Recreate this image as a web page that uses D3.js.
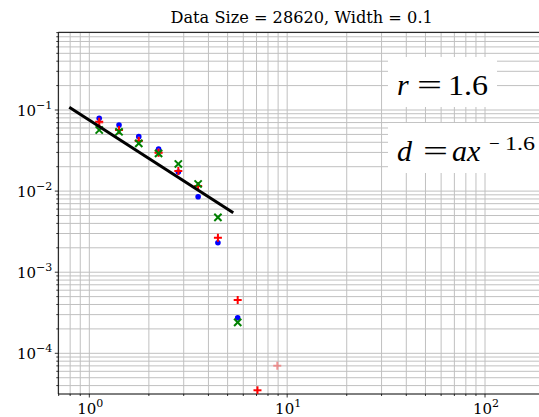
<!DOCTYPE html>
<html><head><meta charset="utf-8">
<script src="https://cdn.jsdelivr.net/npm/d3@7"></script>
<style>body{margin:0;background:#fff}svg{display:block}</style>
</head><body>
<script>
// ---- data ----
const binX = [1.122, 1.413, 1.778, 2.239, 2.818, 3.548, 4.467, 5.623, 7.079, 8.913];
const blueY  = [0.0790, 0.0653, 0.0469, 0.0331, 0.0172, 0.00853, 0.00231, 0.000275, null, null];
const redY   = [0.0718, 0.0567, 0.0415, 0.0297, 0.0177, 0.01156, 0.00266, 0.000454, 0.0000350, null];
const greenY = [0.0567, 0.0539, 0.0388, 0.0292, 0.0216, 0.01225, 0.00475, 0.000241, null, null];
const pinkY  = [0.0697, null, 0.0420, 0.0300, null, null, null, null, null, 0.0000703];
const fitX = [0.792, 5.34];
const fitY = [0.108, 0.00540];
const title = "Data Size = 28620, Width = 0.1";
const xTickExp = [0, 1, 2];
const yTickExp = [-4, -3, -2, -1];
const rValue = "1.6";

(function(){
// ---- layout ----
const W = 539, H = 417;
const pL = 58.3, pR = 545, pT = 32.3, pB = 394;
const svg = d3.select("body").append("svg").attr("width", W).attr("height", H);

const x = d3.scaleLog().domain([0.697, 201]).range([pL, pR]);
const y = d3.scaleLog().domain([0.908, 3.15e-5]).range([pT, pB]);

svg.append("defs").append("clipPath").attr("id","clip")
  .append("rect").attr("x", pL).attr("y", pT).attr("width", pR-pL).attr("height", pB-pT);
const g = svg.append("g");

// grid lines (major + minor)
const xGrid = [];
for (let e = -1; e <= 2; e++) for (let m = 1; m <= 9; m++) { const v = m*Math.pow(10,e); if (v >= 0.697 && v <= 201) xGrid.push(v); }
const yGrid = [];
for (let e = -5; e <= 0; e++) for (let m = 1; m <= 9; m++) { const v = m*Math.pow(10,e); if (v >= 3.15e-5 && v <= 0.908) yGrid.push(v); }
const grid = g.append("g").attr("clip-path","url(#clip)");
grid.selectAll("line.gx").data(xGrid).join("line")
  .attr("x1", d=>x(d)).attr("x2", d=>x(d)).attr("y1", pT).attr("y2", pB)
  .attr("stroke", "#c0c0c0").attr("stroke-width", 1);
grid.selectAll("line.gy").data(yGrid).join("line")
  .attr("y1", d=>y(d)).attr("y2", d=>y(d)).attr("x1", pL).attr("x2", pR)
  .attr("stroke", "#c0c0c0").attr("stroke-width", 1);

const isMajor = (d) => Math.abs(Math.log10(d) - Math.round(Math.log10(d))) < 1e-9;
const axes = g.append("g");
axes.selectAll("line.xt").data(xGrid).join("line")
  .attr("x1", d=>x(d)).attr("x2", d=>x(d)).attr("y1", pB)
  .attr("y2", d=> isMajor(d) ? pB+3.5 : pB+2)
  .attr("stroke","#000").attr("stroke-width",0.8);
axes.selectAll("line.yt").data(yGrid).join("line")
  .attr("y1", d=>y(d)).attr("y2", d=>y(d)).attr("x1", pL)
  .attr("x2", d=> isMajor(d) ? pL-3.5 : pL-2)
  .attr("stroke","#000").attr("stroke-width",0.8);
axes.append("line").attr("x1",pL).attr("x2",pR).attr("y1",pB).attr("y2",pB).attr("stroke","#000").attr("stroke-width",1);
axes.append("line").attr("x1",pL).attr("x2",pR).attr("y1",pT).attr("y2",pT).attr("stroke","#000").attr("stroke-width",1);
axes.append("line").attr("x1",pL).attr("x2",pL).attr("y1",pT).attr("y2",pB).attr("stroke","#000").attr("stroke-width",1);

// tick labels
const fontTxt = "'DejaVu Serif', serif";
function pow10Label(sel, e) {
  sel.append("tspan").text("10");
  sel.append("tspan").attr("dy", -6.5).attr("font-size", 11).text(e < 0 ? "\u2212" + (-e) : String(e));
}
xTickExp.forEach(e => {
  const t = svg.append("text").attr("x", x(Math.pow(10,e)) + 1).attr("y", pB + 19.5)
    .attr("text-anchor","middle").attr("font-family",fontTxt).attr("font-size",15).attr("fill","#000");
  pow10Label(t, e);
});
yTickExp.forEach(e => {
  const t = svg.append("text").attr("x", pL - 6).attr("y", y(Math.pow(10,e)) + 5.5)
    .attr("text-anchor","end").attr("font-family",fontTxt).attr("font-size",15).attr("fill","#000");
  pow10Label(t, e);
});

// title
svg.append("text").attr("x", (pL+pR)/2).attr("y", 22.7).attr("text-anchor","middle")
  .attr("font-family",fontTxt).attr("font-size",16.2).attr("fill","#000").text(title);

// markers
const plot = g.append("g").attr("clip-path","url(#clip)");
const pts = (arr) => binX.map((v,i)=>({x:v, y:arr[i]})).filter(d=>d.y!=null);
plot.selectAll("circle.b").data(pts(blueY)).join("circle")
  .attr("cx", d=>x(d.x)).attr("cy", d=>y(d.y)).attr("r", 2.8).attr("fill","#0000ff");
function plus(sel, data, color, op) {
  const s = sel.append("g").attr("opacity", op);
  data.forEach(d => {
    const cx = x(d.x), cy = y(d.y), h = 4;
    s.append("line").attr("x1",cx-h).attr("x2",cx+h).attr("y1",cy).attr("y2",cy).attr("stroke",color).attr("stroke-width",2);
    s.append("line").attr("x1",cx).attr("x2",cx).attr("y1",cy-h).attr("y2",cy+h).attr("stroke",color).attr("stroke-width",2);
  });
}
function cross(sel, data, color) {
  const s = sel.append("g");
  data.forEach(d => {
    const cx = x(d.x), cy = y(d.y), h = 3.6;
    s.append("line").attr("x1",cx-h).attr("x2",cx+h).attr("y1",cy-h).attr("y2",cy+h).attr("stroke",color).attr("stroke-width",2);
    s.append("line").attr("x1",cx-h).attr("x2",cx+h).attr("y1",cy+h).attr("y2",cy-h).attr("stroke",color).attr("stroke-width",2);
  });
}
plus(plot, pts(pinkY), "#f07070", 0.7);
plus(plot, pts(redY), "#ff0000", 1);
cross(plot, pts(greenY), "#008000");

// fit line
const line = d3.line().x(d=>x(d[0])).y(d=>y(d[1]));
plot.append("path").datum(fitX.map((v,i)=>[v, fitY[i]])).attr("d", line)
  .attr("fill","none").attr("stroke","#000").attr("stroke-width",3);

// text boxes
const fontSerif = "'Liberation Serif', 'Times New Roman', serif";
svg.append("rect").attr("x",388).attr("y",57).attr("width",109).attr("height",50).attr("fill","#fff");
svg.append("rect").attr("x",388).attr("y",123).attr("width",160).attr("height",50).attr("fill","#fff");
function mtext(xp, yp, str, size, italic, len) {
  const t = svg.append("text").attr("x", xp).attr("y", yp).attr("font-family", fontSerif)
    .attr("font-size", size).attr("fill", "#000").attr("font-style", italic ? "italic" : "normal").text(str);
  if (len) t.attr("textLength", len).attr("lengthAdjust", "spacingAndGlyphs");
  return t;
}
mtext(397, 95, "r", 30, true);
mtext(417, 95, "=", 30, false, 25);
mtext(448, 95, rValue, 30, false, 40);
mtext(397, 161, "d", 30, true);
mtext(423, 161, "=", 30, false, 25);
mtext(452, 161, "ax", 30, true);
mtext(489, 150, "\u2212", 19, false);
mtext(505, 150, rValue, 19, false, 30);
})();
</script>
</body></html>
